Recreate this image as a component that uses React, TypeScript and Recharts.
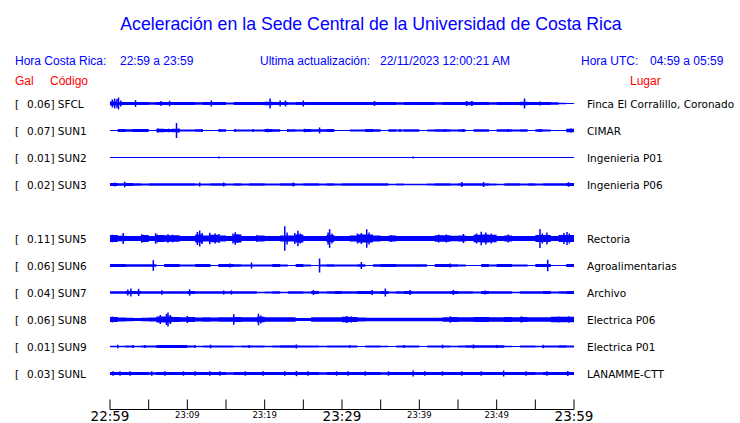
import { ComposedChart, Area, Scatter, ErrorBar, XAxis, YAxis, ReferenceLine } from "recharts";

// stations, top to bottom (row 4 is empty in the original)
const codes = ["SFCL", "SUN1", "SUN2", "SUN3", "SUN5", "SUN6", "SUN7", "SUN8", "SUN9", "SUNL"];
const gal = [0.06, 0.07, 0.01, 0.02, 0.11, 0.06, 0.04, 0.06, 0.01, 0.03];
const places = [
  "Finca El Corralillo, Coronado", "CIMAR", "Ingenieria P01", "Ingenieria P06", "Rectoria",
  "Agroalimentarias", "Archivo", "Electrica P06", "Electrica P01", "LANAMME-CTT",
];
const rows = [0, 1, 2, 3, 5, 6, 7, 8, 9, 10];

// time axis (minutes after 22:59)
const tickMinutes = [0, 5, 10, 15, 20, 25, 30, 35, 40, 45, 50, 55, 60];
const tickLabels = ["22:59", "", "23:09", "", "23:19", "", "23:29", "", "23:39", "", "23:49", "", "23:59"];
const bigLabels = ["22:59", "23:29", "23:59"];

// background noise band, half-height per minute (px of the original plot)
const sfclBand = [2, 1.6, 1.5, 1.6, 1.5, 1.2, 1.6, 1.5, 1.6, 1.5, 1.6, 1.2, 1.6, 1.5, 1.5, 1.0, 1.5, 1.6, 1.6, 1.5,
  1.8, 1.5, 1.6, 1.2, 1.5, 1.6, 1.5, 1.5, 1.6, 1.5, 1.6, 1.5, 1.6, 1.6, 1.6, 1.5, 1.6, 1.2, 1.6, 1.5,
  1.6, 1.5, 1.2, 1.6, 1.5, 1.6, 1.8, 1.5, 1.6, 1.2, 1.5, 1.6, 1.5, 1.8, 1.6, 1.5, 1.5, 1.2, 0.8, 0.3];
const sun1Band = [0, 1.5, 1.2, 1.5, 1.5, 0, 1.8, 1.5, 1.7, 1.1, 1.1, 1.2, 0, 0, 1.2, 0, 1.1, 1.1, 1.1, 1.1,
  1.5, 1.2, 0, 1.2, 1.1, 1.5, 1.2, 1.2, 1.5, 0, 0, 1.1, 1.1, 1.5, 1.2, 0, 1.2, 1.1, 1.2, 1.2,
  0, 1.1, 1.2, 1.2, 1.1, 1.2, 0, 1.2, 1.2, 0, 1.2, 1.2, 1.1, 1.2, 0, 1.2, 1.1, 0, 0, 1.7];
const sun2Band = [0, 0, 0, 0, 0, 0, 0, 0, 0, 0, 0, 0, 0, 0, 0, 0, 0, 0, 0, 0,
  0, 0, 0, 0, 0, 0, 0, 0, 0, 0, 0, 0, 0, 0, 0, 0, 0, 0, 0, 0,
  0, 0, 0, 0, 0, 0, 0, 0, 0, 0, 0, 0, 0, 0, 0, 0, 0, 0, 0, 0];
const sun3Band = [1.4, 1.3, 1.4, 1.3, 1.0, 1.3, 1.3, 1.3, 1.3, 1.3, 1.3, 1.0, 1.0, 1.3, 1.3, 1.0, 1.3, 1.0, 1.3, 1.3,
  1.0, 1.0, 1.3, 1.3, 1.0, 1.3, 1.3, 1.0, 1.3, 1.0, 1.3, 1.3, 1.3, 1.3, 1.3, 1.3, 0.8, 1.0, 0.8, 0.8,
  0.8, 1.0, 1.3, 1.3, 1.0, 1.3, 1.3, 1.3, 1.3, 1.0, 0.8, 1.3, 1.3, 1.0, 1.3, 1.0, 1.3, 1.3, 1.3, 1.5];
const sun5Band = [3.5, 2.8, 2.5, 2.5, 3.5, 2.5, 3.5, 3.2, 3.2, 2.5, 2.5, 4, 3, 3.8, 3, 2.5, 4, 2.5, 2.5, 3,
  2.5, 2.5, 3, 3, 4, 2.5, 2.5, 2.5, 3.5, 2.5, 2.5, 3, 4, 4, 3, 2.5, 3, 2.5, 2.5, 2.5,
  2.5, 2.5, 3.2, 3.2, 2.8, 3, 2.5, 3.8, 4, 3.8, 2.5, 3, 2.5, 2.5, 2.5, 3.5, 3.5, 2.5, 3.5, 3.5];
const sun6Band = [1.6, 1.6, 1.3, 1.3, 1.3, 1.3, 0, 1.6, 1.6, 1.0, 1.0, 1.4, 1.4, 0, 1.6, 1.4, 1.3, 1.0, 1.0, 1.0,
  1.0, 1.6, 1.0, 0, 1.4, 1.0, 0, 1.0, 1.3, 1.0, 1.0, 1.0, 1.3, 0, 1.3, 1.6, 1.6, 1.3, 1.3, 1.3,
  1.3, 0, 1.4, 1.6, 1.3, 1.0, 0, 0, 1.4, 1.0, 1.4, 1.4, 1.0, 1.0, 0, 1.4, 1.6, 0, 0, 1.6];
const sun7Band = [1.3, 1.3, 1.6, 1.5, 1.3, 1.3, 1.3, 1.3, 1.3, 1.3, 1.4, 1.3, 1.3, 1.3, 1.3, 1.3, 1.3, 1.3, 1.2, 0.8,
  1.1, 1.3, 0.8, 1.2, 1.2, 1.0, 1.4, 1.0, 1.3, 1.4, 1.3, 1.2, 1.4, 1.4, 1.3, 1.4, 1.0, 1.2, 1.4, 1.2,
  1.3, 1.3, 1.3, 1.3, 1.4, 1.2, 1.3, 1.0, 1.4, 1.2, 1.2, 1.3, 0.8, 1.2, 1.3, 1.2, 1.4, 1.0, 1.2, 1.4];
const sun8Band = [2.5, 2, 1.8, 1.5, 1.8, 2, 3, 3, 2.5, 2.2, 2.5, 2, 2.2, 2, 2.2, 2.2, 2.5, 2.2, 2.2, 2.8,
  2.2, 2.2, 2.2, 2.2, 1.5, 1.5, 2.2, 2.2, 2.2, 2.2, 2.8, 2.5, 2, 1.8, 1.8, 1.8, 1.8, 1.8, 1.8, 1.8,
  1.8, 1.8, 1.8, 2.2, 2.5, 2.2, 2.2, 2.5, 2.5, 2.2, 2.2, 2.5, 2.2, 2.5, 2.2, 2.2, 2.2, 2.8, 2.8, 2.8];
const sun9Band = [0.8, 0.8, 0.9, 0.8, 0.9, 1.0, 1.4, 1.4, 1.4, 1.4, 0.9, 0.8, 1.0, 0.9, 1.0, 0.9, 0.8, 1.0, 1.0, 0.9,
  0.8, 0.9, 1.2, 1.2, 1.0, 1.0, 0.9, 0.8, 0.9, 1.0, 1.0, 0.9, 0.6, 0.9, 1.0, 0.8, 0.6, 1.0, 1.0, 0.9,
  0.6, 0.9, 1.0, 0.9, 0.8, 0.9, 1.2, 1.2, 1.3, 1.2, 1.2, 0.8, 0.6, 0.9, 1.0, 0.8, 1.0, 1.0, 1.2, 1.0];
const sunlBand = [1.5, 1.5, 1.4, 1.5, 1.5, 1.3, 1.5, 1.5, 1.5, 1.5, 1.5, 1.5, 1.5, 1.5, 1.5, 1.3, 1.5, 1.5, 1.5, 1.5,
  1.5, 1.5, 1.5, 1.5, 1.5, 1.5, 1.5, 1.3, 1.5, 1.5, 1.5, 1.5, 1.5, 1.5, 1.5, 1.3, 1.5, 1.5, 1.5, 1.5,
  1.5, 1.5, 1.5, 1.5, 1.5, 1.5, 1.5, 1.5, 1.5, 1.5, 1.5, 1.5, 1.5, 1.5, 1.5, 1.3, 1.5, 1.5, 1.5, 1.6];

// short bursts: [minute, half-amplitude in px]
const sfclSpikes = [[0.3, 4], [0.6, 5], [0.9, 4.5], [1.1, 6], [1.4, 3], [3.3, 3.3], [6.6, 2.5], [7.7, 2.7], [13.1, 3],
  [20.7, 5], [22.0, 3], [22.7, 3], [25.0, 3], [34.2, 2.5], [46.1, 2.5], [46.8, 2.5], [53.6, 5], [55.6, 2]];
const sun1Spikes = [[1.3, 1.5], [3.0, 1.5], [6.2, 2], [7.6, 1.8], [8.6, 7.5], [8.9, 2], [11.9, 1.5], [14.2, 1.5],
  [16.2, 1.5], [18.5, 1.5], [20.4, 1.8], [23.0, 1.5], [25.2, 1.8], [27.1, 3], [33.8, 1.5], [37.5, 1.5],
  [43.3, 1.5], [45.7, 1.5], [51.5, 1.5], [55.6, 1.5], [59.6, 2]];
const sun2Spikes = [[14.1, 1], [39.2, 1]];
const sun3Spikes = [[0.6, 2], [1.9, 2.8], [11.6, 2], [14.7, 2], [23.7, 2], [45.5, 2.5], [48.3, 2.5], [59.3, 2.3]];
const sun5Spikes = [[0.3, 3.8], [1.7, 5.5], [4.1, 4.2], [4.3, 3.6], [5.9, 5.3], [6.1, 4], [7.5, 4.2], [8.1, 3.8],
  [11.3, 6.5], [11.6, 8], [11.9, 5.5], [12.9, 5.7], [13.6, 5], [14.1, 4.5], [15.9, 5], [16.2, 6.3], [16.5, 4.5],
  [19.0, 3.5], [22.6, 12.3], [22.9, 6], [23.9, 5.5], [24.3, 7.8], [24.6, 5], [28.2, 6], [28.4, 9.3], [28.7, 5],
  [32.0, 5], [32.5, 5.5], [33.2, 9.2], [33.5, 6], [36.4, 3.5], [42.5, 4], [43.5, 4], [45.7, 4.5], [47.4, 5],
  [48.0, 6.8], [48.6, 6], [49.3, 5], [51.5, 4], [55.6, 9.5], [55.9, 5], [56.5, 6], [58.7, 5.5], [59.1, 6.5], [59.4, 5]];
const sun6Spikes = [[5.6, 5.3], [15.5, 2], [18.3, 3], [27.1, 7], [32.5, 3.5], [44.0, 2], [56.6, 5.8]];
const sun7Spikes = [[2.3, 3], [2.7, 4], [3.7, 3.6], [6.7, 2.2], [10.3, 3.2], [14.7, 2], [15.7, 2.2], [26.3, 2.5],
  [33.9, 2.5], [35.6, 4], [38.8, 2.5], [44.4, 2.5], [48.5, 2]];
const sun8Spikes = [[0.3, 3], [6.5, 4.5], [7.3, 5.5], [7.5, 7], [7.8, 4.5], [10.0, 3.5], [16.0, 5.3], [19.2, 5.8],
  [19.5, 4], [30.6, 3.5], [31.2, 3], [44.0, 3.2], [53.2, 3.2], [58.0, 3], [59.3, 3.2]];
const sun9Spikes = [[1, 1.8], [3, 1.6], [4.5, 1.6], [11, 1.6], [13, 1.8], [18, 1.6], [24.1, 2], [31, 1.5],
  [38, 1.6], [43, 1.8], [47, 2], [50, 1.6], [56, 1.8]];
const sunlSpikes = [[0.4, 2.2], [1.3, 2.2], [2.6, 2.2], [5.4, 2.2], [7.1, 2.2], [9.5, 2.2], [11.0, 2.2], [12.9, 2.2],
  [14.2, 2.2], [17.5, 2.2], [19.8, 2.2], [22.6, 2.2], [24.1, 2.7], [25.6, 2.2], [29.3, 2.2], [30.8, 2.2],
  [33.0, 2.2], [36.0, 2.2], [39.2, 3], [40.7, 2.2], [43.0, 2.2], [45.5, 2.2], [48.0, 2.2], [50.9, 3],
  [53.8, 2.2], [56.5, 2.2], [59.2, 2.4]];

const bands = [sfclBand, sun1Band, sun2Band, sun3Band, sun5Band, sun6Band, sun7Band, sun8Band, sun9Band, sunlBand];
const spikes = [sfclSpikes, sun1Spikes, sun2Spikes, sun3Spikes, sun5Spikes, sun6Spikes, sun7Spikes, sun8Spikes, sun9Spikes, sunlSpikes];

const PX_PER_ROW = 27;
const BLUE = "#0000ff";
const AXIS_ROW = 11.3333;

const bandTable = Array.from({ length: 61 }, (_, t) => {
  const d: any = { t };
  codes.forEach((c, i) => {
    const b = bands[i][Math.min(t, 59)] / PX_PER_ROW;
    d[c] = [rows[i] - b, rows[i] + b];
  });
  return d;
});

const TimeTick = (p: any) => {
  const { x, y, payload } = p;
  const label = tickLabels[tickMinutes.indexOf(payload.value)] || "";
  const big = bigLabels.includes(label);
  return (
    <g>
      <line x1={x} x2={x} y1={y - 10} y2={y} stroke="#000" strokeWidth={1} />
      {label && (
        <text x={x} y={big ? y + 11 : y + 8.5} textAnchor="middle" fontSize={big ? 13.5 : 8.5}
          fontFamily="DejaVu Sans" fill="#000">{label}</text>
      )}
    </g>
  );
};

const CodeTick = (p: any) => {
  const i = rows.indexOf(p.payload.value);
  if (i < 0) return null;
  return (
    <g fontFamily="DejaVu Sans" fontSize={10.5} fill="#000">
      <text x={15} y={p.y + 4}>[</text>
      <text x={27} y={p.y + 4}>{gal[i].toFixed(2)}] {codes[i]}</text>
    </g>
  );
};

const PlaceTick = (p: any) => {
  const i = rows.indexOf(p.payload.value);
  if (i < 0) return null;
  return (
    <text x={587} y={p.y + 4} fontFamily="DejaVu Sans" fontSize={10.5} fill="#000">{places[i]}</text>
  );
};

const hdr = { fontFamily: "Liberation Sans, Arial, sans-serif", fontSize: 12 };

export default function App() {
  return (
    <div style={{ position: "absolute", left: 0, top: 0, width: 740, height: 423, background: "#fff" }}>
      <ComposedChart width={740} height={423} data={bandTable} margin={{ top: 90, right: 0, bottom: 0, left: 0 }}>
        <XAxis dataKey="t" type="number" domain={[0, 60]} ticks={tickMinutes} interval={0} allowDataOverflow
          height={13.5} tickSize={0} tickMargin={0} tickLine={false} axisLine={{ stroke: "#000" }} tick={<TimeTick />} />
        <YAxis yAxisId="l" type="number" orientation="left" width={110} reversed domain={[-0.5, AXIS_ROW]}
          allowDataOverflow ticks={rows} interval={0} tickLine={false} axisLine={false} tick={<CodeTick />} />
        <YAxis yAxisId="r" type="number" orientation="right" width={166} reversed domain={[-0.5, AXIS_ROW]}
          allowDataOverflow ticks={rows} interval={0} tickLine={false} axisLine={false} tick={<PlaceTick />} />
        {rows.map(r => (
          <ReferenceLine key={"b" + r} yAxisId="l" y={r} stroke={BLUE} strokeWidth={1} />
        ))}
        {codes.map(c => (
          <Area key={c} yAxisId="l" dataKey={c} type="stepAfter" stroke="none" fill={BLUE} fillOpacity={1}
            isAnimationActive={false} dot={false} activeDot={false} />
        ))}
        {codes.map((c, i) => (
          <Scatter key={"s" + c} yAxisId="l" dataKey="y" isAnimationActive={false} shape={() => <g />}
            data={spikes[i].map(([t, a]) => ({ t, y: rows[i], e: a / PX_PER_ROW }))}>
            <ErrorBar dataKey="e" direction="y" width={0} stroke={BLUE} strokeWidth={1.5} isAnimationActive={false} />
          </Scatter>
        ))}
      </ComposedChart>
      <svg width={740} height={423} style={{ position: "absolute", left: 0, top: 0, pointerEvents: "none" }}>
        <text x={371} y={30} textAnchor="middle" fill={BLUE} fontFamily="Liberation Sans, Arial, sans-serif" fontSize={17.7}>
          Aceleración en la Sede Central de la Universidad de Costa Rica
        </text>
        <g {...hdr} fill={BLUE}>
          <text x={15} y={65}>Hora Costa Rica:</text>
          <text x={120} y={65}>22:59 a 23:59</text>
          <text x={260} y={65}>Ultima actualización:</text>
          <text x={380} y={65}>22/11/2023 12:00:21 AM</text>
          <text x={581} y={65}>Hora UTC:</text>
          <text x={650} y={65}>04:59 a 05:59</text>
        </g>
        <g {...hdr} fill="#ff0000">
          <text x={15} y={85}>Gal</text>
          <text x={50} y={85}>Código</text>
          <text x={630} y={85}>Lugar</text>
        </g>
      </svg>
    </div>
  );
}
